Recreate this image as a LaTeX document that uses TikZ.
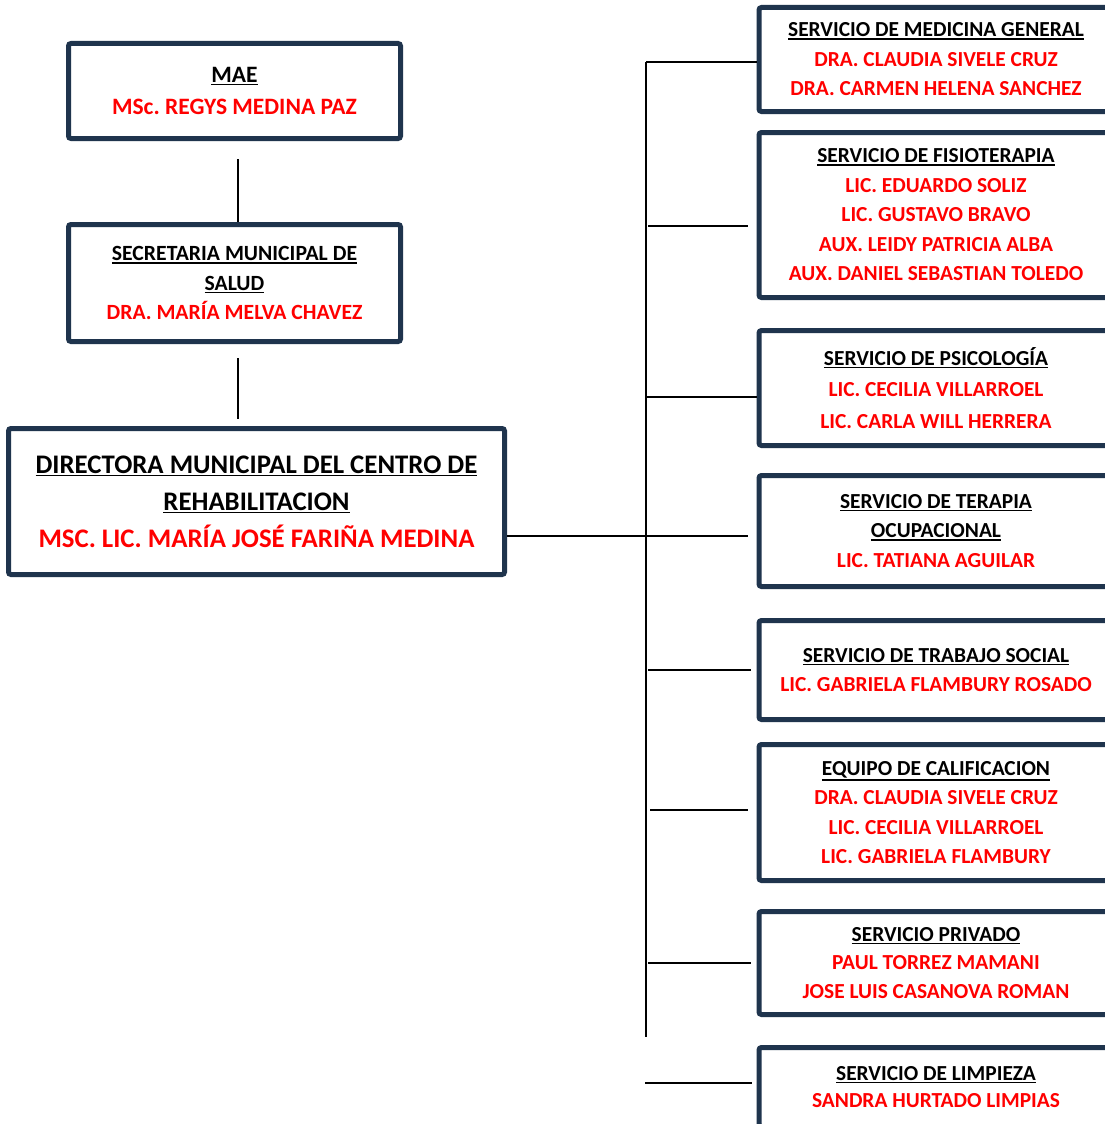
\documentclass[tikz,border=0pt]{standalone}
\usepackage{fontspec}
\setmainfont{Carlito}
\definecolor{marco}{RGB}{31,52,77}
\newcommand{\subrayar}[1]{\leavevmode\vtop{\hbox{#1}\kern1.3pt\hrule height 1.6pt}}
\newcommand{\nom}[1]{\textcolor{red}{#1}}

\begin{document}
\begin{tikzpicture}[x=1pt, y=-1pt, line width=1.5pt,
  cargo/.style={draw=marco, line width=5pt, rounded corners=2.5pt, align=center,
    inner sep=0pt, font=\bfseries\fontsize{21.4}{29.5}\selectfont},
  servicio/.style={cargo, minimum width=354pt}]
\fill[white] (0,0) rectangle (1105,1124);
\useasboundingbox (0,0) rectangle (1105,1124);

% left column
\node[cargo, minimum width=332pt, minimum height=95pt, font=\bfseries\fontsize{23.5}{32}\selectfont] (mae) at (234.5,91)
  {\subrayar{MAE}\\ \nom{MSc.\ REGYS MEDINA PAZ}};
\node[cargo, minimum width=332pt, minimum height=117pt, font=\bfseries\fontsize{21.7}{29.5}\selectfont] (sec) at (234.5,283)
  {\subrayar{SECRETARIA MUNICIPAL DE}\\ \subrayar{SALUD}\\ \nom{DRA. MARÍA MELVA CHAVEZ}};
\node[cargo, minimum width=496pt, minimum height=146pt, font=\bfseries\fontsize{26.8}{37}\selectfont] (dir) at (256.5,501.5)
  {\subrayar{DIRECTORA MUNICIPAL DEL CENTRO DE}\\ \subrayar{REHABILITACION}\\ \nom{MSC. LIC. MARÍA JOSÉ FARIÑA MEDINA}};

% right column
\node[servicio, minimum height=104pt] (med) at (936,59.5)
  {\subrayar{SERVICIO DE MEDICINA GENERAL}\\ \nom{DRA. CLAUDIA SIVELE CRUZ}\\ \nom{DRA. CARMEN HELENA SANCHEZ}};
\node[servicio, minimum height=165pt] (fis) at (936,215)
  {\subrayar{SERVICIO DE FISIOTERAPIA}\\ \nom{LIC. EDUARDO SOLIZ}\\ \nom{LIC. GUSTAVO BRAVO}\\
   \nom{AUX. LEIDY PATRICIA ALBA}\\ \nom{AUX. DANIEL SEBASTIAN TOLEDO}};
\node[servicio, minimum height=115pt, font=\bfseries\fontsize{21.4}{31.5}\selectfont] (psi) at (936,388)
  {\subrayar{SERVICIO DE PSICOLOGÍA}\\ \nom{LIC. CECILIA VILLARROEL}\\ \nom{LIC. CARLA WILL HERRERA}};
\node[servicio, minimum height=111pt] (ter) at (936,531)
  {\subrayar{SERVICIO DE TERAPIA}\\ \subrayar{OCUPACIONAL}\\ \nom{LIC. TATIANA AGUILAR}};
\node[servicio, minimum height=99pt] (tra) at (936,670)
  {\subrayar{SERVICIO DE TRABAJO SOCIAL}\\ \nom{LIC. GABRIELA FLAMBURY ROSADO}};
\node[servicio, minimum height=136pt] (equ) at (936,812.5)
  {\subrayar{EQUIPO DE CALIFICACION}\\ \nom{DRA. CLAUDIA SIVELE CRUZ}\\ \nom{LIC. CECILIA VILLARROEL}\\ \nom{LIC. GABRIELA FLAMBURY}};
\node[servicio, minimum height=103pt, font=\bfseries\fontsize{21.4}{28.5}\selectfont] (pri) at (936,963)
  {\subrayar{SERVICIO PRIVADO}\\ \nom{PAUL TORREZ MAMANI}\\ \nom{JOSE LUIS CASANOVA ROMAN}};
\node[servicio, minimum height=79pt, font=\bfseries\fontsize{21.4}{27.5}\selectfont] (lim) at (936,1087)
  {\subrayar{SERVICIO DE LIMPIEZA}\\ \nom{SANDRA HURTADO LIMPIAS}};

% connectors
\coordinate (t1) at (646,62);
\coordinate (t2) at (646,1037);
\coordinate (hub) at (646,536);
\draw ([xshift=3.5pt,yshift=-18pt]mae.south) -- ([xshift=3.5pt]sec.north);
\draw ([xshift=3.5pt,yshift=-14pt]sec.south) -- ([xshift=-18.5pt,yshift=7pt]dir.north);
\draw (dir.east |- hub) -- ([xshift=-9pt]ter.west |- hub);
\draw (t1) -- (t2);
\draw (t1) -- (med.west |- t1);
\draw ([xshift=-9pt,yshift=-11pt]fis.west) -- +(-100,0);
\draw ([yshift=-9pt]psi.west) -- +(-112,0);
\draw ([xshift=-6pt]tra.west) -- +(-103,0);
\draw ([xshift=-9pt,yshift=2.5pt]equ.west) -- +(-98,0);
\draw ([xshift=-6pt]pri.west) -- +(-103,0);
\draw ([xshift=-5pt,yshift=4pt]lim.west) -- +(-107,0);
\end{tikzpicture}
\end{document}
